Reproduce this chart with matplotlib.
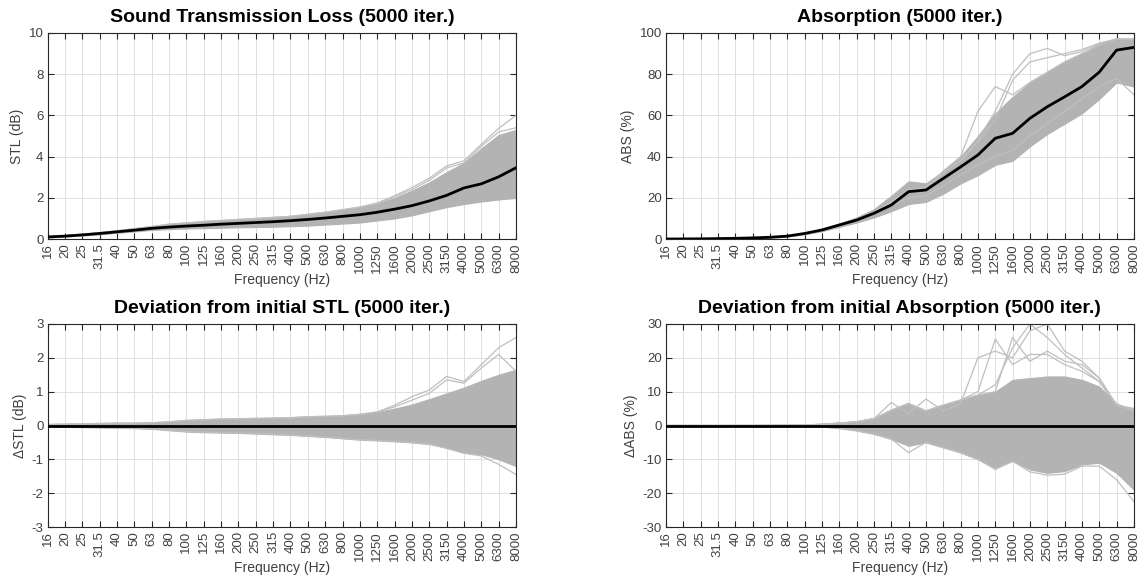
import matplotlib
matplotlib.use("Agg")
import matplotlib.pyplot as plt
import numpy as np

plt.rcParams['font.family'] = ['Liberation Sans', 'DejaVu Sans']

bands = ["16", "20", "25", "31.5", "40", "50", "63", "80", "100", "125", "160", "200",
         "250", "315", "400", "500", "630", "800", "1000", "1250", "1600", "2000",
         "2500", "3150", "4000", "5000", "6300", "8000"]

# ---- Sound Transmission Loss (dB) ----
stl_mean = [0.10, 0.14, 0.20, 0.27, 0.35, 0.43, 0.52, 0.58, 0.63, 0.67, 0.72, 0.76,
            0.80, 0.84, 0.89, 0.95, 1.02, 1.10, 1.18, 1.30, 1.45, 1.62,
            1.85, 2.12, 2.48, 2.68, 3.02, 3.46]
stl_upper = [0.12, 0.17, 0.23, 0.31, 0.40, 0.50, 0.60, 0.72, 0.78, 0.85, 0.90, 0.95,
             1.00, 1.05, 1.10, 1.20, 1.30, 1.42, 1.55, 1.72, 2.00, 2.35,
             2.75, 3.25, 3.70, 4.40, 5.05, 5.30]
stl_lower = [0.08, 0.12, 0.17, 0.23, 0.30, 0.37, 0.44, 0.48, 0.51, 0.53, 0.55, 0.57,
             0.58, 0.60, 0.62, 0.65, 0.70, 0.75, 0.80, 0.90, 1.00, 1.15,
             1.35, 1.55, 1.70, 1.82, 1.92, 2.00]
stl_outliers = [
    [0.12, 0.17, 0.23, 0.31, 0.40, 0.50, 0.60, 0.72, 0.78, 0.85, 0.90, 0.95,
     1.00, 1.05, 1.10, 1.20, 1.30, 1.42, 1.55, 1.75, 2.10, 2.50, 2.95, 3.55, 3.80, 4.60, 5.37, 6.00],
    [0.12, 0.17, 0.23, 0.31, 0.40, 0.50, 0.60, 0.72, 0.78, 0.85, 0.90, 0.95,
     1.00, 1.05, 1.10, 1.20, 1.30, 1.42, 1.55, 1.72, 2.05, 2.40, 2.85, 3.45, 3.70, 4.50, 5.20, 5.40],
]

# ---- Absorption (%) ----
abs_mean = [0.0, 0.05, 0.1, 0.2, 0.35, 0.55, 0.85, 1.4, 2.7, 4.4, 6.8, 9.2,
            12.5, 16.5, 23.0, 23.8, 29.4, 35.0, 40.8, 48.9, 51.3, 58.6,
            64.2, 69.0, 74.0, 81.0, 91.7, 93.0]
abs_upper = [0.0, 0.06, 0.12, 0.25, 0.42, 0.65, 1.0, 1.7, 3.1, 5.0, 7.6, 10.5,
             14.5, 21.0, 28.0, 27.0, 33.0, 40.0, 50.0, 61.0, 69.0, 76.0,
             81.0, 86.0, 90.0, 95.0, 97.5, 96.5]
abs_lower = [0.0, 0.04, 0.08, 0.16, 0.28, 0.45, 0.7, 1.2, 2.3, 3.8, 5.9, 8.0,
             10.5, 13.5, 17.0, 18.0, 22.0, 27.0, 31.0, 36.0, 38.0, 45.0,
             51.0, 56.0, 61.0, 68.0, 76.0, 74.0]
abs_outliers = [
    [0.0, 0.05, 0.1, 0.2, 0.35, 0.55, 0.85, 1.4, 2.7, 4.4, 6.8, 9.2,
     13.0, 18.0, 24.0, 25.0, 33.0, 40.0, 62.0, 74.0, 70.0, 76.0, 81.0, 86.0, 90.0, 94.0, 97.0, 97.0],
    [0.0, 0.05, 0.1, 0.2, 0.35, 0.55, 0.85, 1.4, 2.7, 4.4, 6.8, 9.2,
     13.0, 18.0, 24.0, 25.0, 32.0, 38.0, 48.0, 62.0, 80.0, 90.0, 92.5, 89.0, 91.0, 95.0, 97.0, 97.0],
    [0.0, 0.05, 0.1, 0.2, 0.35, 0.55, 0.85, 1.4, 2.7, 4.4, 6.8, 9.2,
     13.0, 18.0, 24.0, 25.0, 32.0, 38.0, 47.0, 58.0, 77.0, 86.0, 88.0, 90.0, 92.0, 95.0, 97.0, 97.0],
    [0.0, 0.05, 0.1, 0.2, 0.35, 0.55, 0.85, 1.4, 2.7, 4.4, 6.8, 9.2,
     12.5, 16.0, 20.0, 21.0, 26.0, 31.0, 36.0, 40.0, 43.0, 50.0, 56.0, 62.0, 68.0, 74.0, 78.0, 70.0],
]

# ---- Deviation from initial STL (dB) ----
dstl_mean = [0.0] * 28
dstl_upper = [0.03, 0.04, 0.05, 0.06, 0.07, 0.07, 0.08, 0.11, 0.15, 0.17, 0.19, 0.20,
              0.21, 0.22, 0.23, 0.26, 0.27, 0.29, 0.33, 0.40, 0.50, 0.62,
              0.78, 0.95, 1.12, 1.32, 1.50, 1.65]
dstl_lower = [-0.03, -0.04, -0.05, -0.06, -0.07, -0.08, -0.10, -0.14, -0.18, -0.20, -0.21, -0.22,
              -0.24, -0.26, -0.28, -0.31, -0.34, -0.38, -0.42, -0.44, -0.47, -0.50,
              -0.55, -0.65, -0.80, -0.85, -1.00, -1.20]
dstl_outliers = [
    [0.03, 0.04, 0.05, 0.06, 0.07, 0.07, 0.08, 0.11, 0.15, 0.17, 0.19, 0.20,
     0.21, 0.22, 0.23, 0.26, 0.27, 0.29, 0.33, 0.40, 0.60, 0.85, 1.05, 1.45, 1.30, 1.80, 2.30, 2.60],
    [0.03, 0.04, 0.05, 0.06, 0.07, 0.07, 0.08, 0.11, 0.15, 0.17, 0.19, 0.20,
     0.21, 0.22, 0.23, 0.26, 0.27, 0.29, 0.33, 0.40, 0.55, 0.75, 0.95, 1.35, 1.25, 1.70, 2.10, 1.60],
    [-0.03, -0.04, -0.05, -0.06, -0.07, -0.08, -0.10, -0.14, -0.18, -0.20, -0.21, -0.22,
     -0.24, -0.26, -0.28, -0.31, -0.34, -0.38, -0.42, -0.44, -0.47, -0.50, -0.55, -0.68, -0.82, -0.90, -1.15, -1.45],
]

# ---- Deviation from initial Absorption (%) ----
dabs_mean = [0.0] * 28
dabs_upper = [0.0, 0.0, 0.0, 0.0, 0.02, 0.03, 0.05, 0.08, 0.15, 0.35, 0.7, 1.1,
              2.0, 4.5, 6.5, 4.3, 6.0, 7.5, 9.0, 10.0, 13.5, 14.0,
              14.5, 14.5, 13.5, 11.5, 6.5, 4.5]
dabs_lower = [0.0, 0.0, 0.0, 0.0, -0.02, -0.03, -0.05, -0.08, -0.15, -0.35, -0.8, -1.5,
              -2.5, -4.0, -6.0, -5.0, -6.5, -8.0, -10.0, -12.5, -10.5, -13.0,
              -14.0, -13.5, -11.5, -11.0, -14.0, -19.0]
dabs_outliers = [
    [0.0, 0.0, 0.0, 0.0, 0.02, 0.03, 0.05, 0.08, 0.15, 0.35, 0.7, 1.1,
     2.0, 6.8, 3.5, 7.8, 4.3, 6.5, 20.0, 22.0, 20.0, 28.0, 30.0, 22.0, 19.0, 14.0, 6.0, 5.0],
    [0.0, 0.0, 0.0, 0.0, 0.02, 0.03, 0.05, 0.08, 0.15, 0.35, 0.7, 1.1,
     2.0, 4.5, 6.5, 4.3, 6.0, 7.5, 10.0, 25.5, 18.0, 21.0, 21.0, 18.0, 16.0, 13.0, 6.0, 4.5],
    [0.0, 0.0, 0.0, 0.0, 0.02, 0.03, 0.05, 0.08, 0.15, 0.35, 0.7, 1.1,
     2.0, 4.5, 6.5, 4.3, 6.0, 7.5, 9.0, 10.0, 26.0, 19.0, 22.0, 19.0, 18.0, 14.0, 6.0, 5.0],
    [0.0, 0.0, 0.0, 0.0, 0.02, 0.03, 0.05, 0.08, 0.15, 0.35, 0.7, 1.1,
     2.0, 4.5, 6.5, 4.3, 6.0, 7.5, 9.0, 12.0, 23.0, 30.0, 26.0, 21.0, 17.0, 13.0, 6.0, 4.5],
    [0.0, 0.0, 0.0, 0.0, -0.02, -0.03, -0.05, -0.08, -0.15, -0.35, -0.8, -1.5,
     -2.5, -4.0, -8.0, -5.0, -6.5, -8.0, -10.0, -13.0, -10.5, -13.7, -14.7, -14.4, -12.0, -12.0, -16.0, -22.5],
]

GRAY = '#b3b3b3'
AXC = '#262626'
TXC = '#404040'

fig = plt.figure(figsize=(11.47, 5.82), dpi=100)
positions = [
    [0.0415, 0.5893, 0.4084, 0.354],
    [0.5806, 0.5893, 0.4080, 0.354],
    [0.0415, 0.0945, 0.4084, 0.3488],
    [0.5806, 0.0945, 0.4080, 0.3488],
]
panels = [
    ("Sound Transmission Loss (5000 iter.)", "STL (dB)", (0, 10), [0, 2, 4, 6, 8, 10],
     stl_mean, stl_upper, stl_lower, stl_outliers),
    ("Absorption (5000 iter.)", "ABS (%)", (0, 100), [0, 20, 40, 60, 80, 100],
     abs_mean, abs_upper, abs_lower, abs_outliers),
    ("Deviation from initial STL (5000 iter.)", "\u0394STL (dB)", (-3, 3), [-3, -2, -1, 0, 1, 2, 3],
     dstl_mean, dstl_upper, dstl_lower, dstl_outliers),
    ("Deviation from initial Absorption (5000 iter.)", "\u0394ABS (%)", (-30, 30), [-30, -20, -10, 0, 10, 20, 30],
     dabs_mean, dabs_upper, dabs_lower, dabs_outliers),
]

x = np.arange(len(bands))
for pos, (title, ylabel, ylim, yticks, mean, upper, lower, outliers) in zip(positions, panels):
    ax = fig.add_axes(pos)
    ax.set_axisbelow(True)
    ax.grid(True, color='#dedede', linewidth=0.7)
    ax.fill_between(x, lower, upper, color=GRAY, linewidth=0.8, edgecolor=GRAY, zorder=2)
    for o in outliers:
        ax.plot(x, o, color='#bfbfbf', linewidth=0.9, zorder=2)
    ax.plot(x, mean, color='black', linewidth=2.0, zorder=3)
    ax.set_xlim(0, len(bands) - 1)
    ax.set_ylim(*ylim)
    ax.set_xticks(x)
    ax.set_xticklabels(bands, rotation=90, fontsize=9.5, color=TXC)
    ax.set_yticks(yticks)
    ax.set_yticklabels([str(t) for t in yticks], fontsize=9.5, color=TXC)
    ax.tick_params(direction='in', length=4, width=0.8, top=True, right=True, color=AXC, pad=3)
    for s in ax.spines.values():
        s.set_color(AXC)
        s.set_linewidth(0.8)
    ax.set_title(title, fontsize=14, fontweight='bold', color='black', pad=8)
    ax.set_ylabel(ylabel, fontsize=10, color=TXC, labelpad=3)
    ax.set_xlabel("Frequency (Hz)", fontsize=10, color=TXC, labelpad=0)

fig.savefig("out.png", dpi=100)
